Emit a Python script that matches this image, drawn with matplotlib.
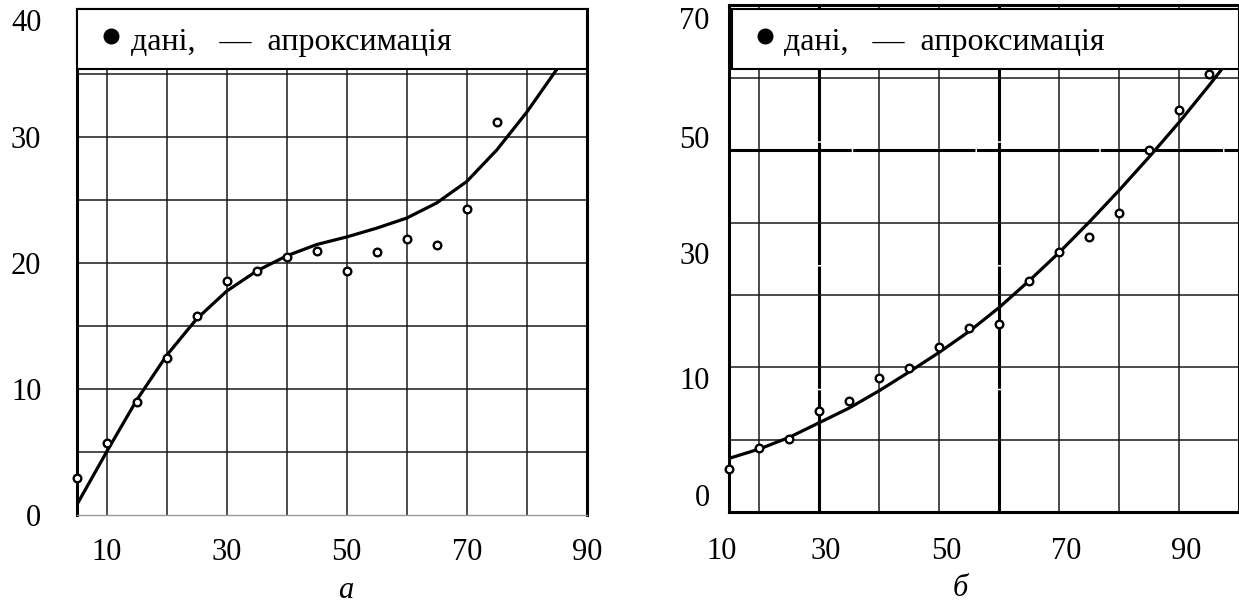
import numpy as np
import matplotlib.pyplot as plt
from matplotlib.patches import Rectangle

plt.rcParams['font.family'] = ['Liberation Serif', 'DejaVu Serif']

# panel (а): measured points and fitted curve
left_x = [5, 10, 15, 20, 25, 30, 35, 40, 45, 50, 55, 60, 65, 70, 75]
left_y = [2.98, 5.71, 8.97, 12.5, 15.8, 18.6, 19.4, 20.5, 21.0, 19.4, 20.9, 21.9, 21.5, 24.3, 31.2]
left_fit_x = [5, 10, 15, 20, 25, 30, 35, 40, 45, 50, 55, 60, 65, 70, 75, 80, 85, 90]
left_fit_y = [0.82, 5.05, 9.15, 12.7, 15.6, 17.8, 19.4, 20.6, 21.5, 22.1, 22.8, 23.6, 24.8, 26.5, 29.0, 32.0, 35.4, 39.2]

# panel (б)
right_x = [15, 20, 25, 30, 35, 40, 45, 50, 55, 60, 65, 70, 75, 80, 85, 90, 95]
right_y = [6.0, 8.85, 10.1, 14.0, 15.4, 18.5, 19.9, 22.9, 25.4, 26.0, 31.9, 35.9, 38.0, 41.4, 50.1, 55.6, 60.5]
right_fit_x = [15, 20, 25, 30, 35, 40, 45, 50, 55, 60, 65, 70, 75, 80, 85, 90, 95, 100]
right_fit_y = [7.46, 8.74, 10.36, 12.38, 14.41, 16.8, 19.4, 22.1, 25.0, 28.3, 32.0, 35.9, 40.1, 44.5, 49.1, 53.9, 59.0, 64.3]

# axis labels
left_xtick_pos = [10, 30, 50, 70, 90]
left_xtick_lab = ['10', '30', '50', '70', '90']
left_ytick_pos = [0, 10, 20, 30, 39.3]
left_ytick_lab = ['0', '10', '20', '30', '40']
right_xtick_pos = [13.7, 31.1, 51.1, 71.1, 91.1]
right_xtick_lab = ['10', '30', '50', '70', '90']
right_ytick_pos = [2.4, 18.6, 35.8, 51.9, 68.3]
right_ytick_lab = ['0', '10', '30', '50', '70']

legend_text = 'дані,   —  апроксимація'

W, H = 1239, 612
fig = plt.figure(figsize=(W / 100, H / 100), dpi=100)
fig.patch.set_facecolor('white')

FS = 22
GRID = '#1a1a1a'
HEAVY = (0, (40, 0.5))


def draw_legend(ax, box, dot_x, text_x, base_y):
    # white strip over the top of the plot with a bullet and the caption
    x0, y0, w, h = box
    ax.add_patch(Rectangle((x0, y0), w, h, transform=ax.transAxes,
                           facecolor='white', edgecolor='black', lw=1.5, zorder=5, clip_on=False))
    ax.plot([dot_x], [base_y + 0.027], 'o', ms=10.5, color='black',
            transform=ax.transAxes, zorder=6, clip_on=False)
    ax.text(text_x, base_y, legend_text, transform=ax.transAxes, fontsize=23,
            ha='left', va='baseline', zorder=6)


axL = fig.add_axes([76.7 / W, (H - 515.3) / H, 510 / W, 506.3 / H])
axR = fig.add_axes([729.3 / W, (H - 512.3) / H, 510 / W, 506.8 / H])

# ---- left panel
axL.set_xlim(5, 90)
axL.set_ylim(0, 40.2)
for gx in range(10, 90, 10):
    axL.axvline(gx, color=GRID, lw=1.1, zorder=1)
for gy in range(5, 40, 5):
    axL.axhline(gy, color=GRID, lw=1.1, zorder=1)
axL.plot(left_fit_x, left_fit_y, color='black', lw=2.3, zorder=3, solid_capstyle='round')
axL.plot(left_x, left_y, 'o', ms=5.5, mfc='white', mec='black', mew=1.7, zorder=4, clip_on=False)

axL.set_xticks(left_xtick_pos, left_xtick_lab)
axL.set_yticks(left_ytick_pos, left_ytick_lab)
axL.tick_params(axis='x', length=0, labelsize=FS, pad=16)
axL.tick_params(axis='y', length=0, labelsize=FS, pad=25.5)
for s in ['left', 'right', 'top']:
    axL.spines[s].set_linewidth(2.2)
axL.spines['bottom'].set_color('#9a9a9a')
axL.spines['bottom'].set_linewidth(1.0)

draw_legend(axL, (0, 0.8815, 1, 1 - 0.8815), 0.068, 0.106, 0.919)

# ---- right panel
axR.set_xlim(15, 100)
axR.set_ylim(0, 70)
for gx in range(20, 100, 10):
    if gx in (30, 60):
        axR.axvline(gx, color='black', lw=2.2, ls=HEAVY, zorder=1)
    else:
        axR.axvline(gx, color=GRID, lw=1.1, zorder=1)
for gy in range(10, 70, 10):
    if gy == 50:
        axR.axhline(gy, color='black', lw=2.2, ls=HEAVY, zorder=1)
    else:
        axR.axhline(gy, color=GRID, lw=1.1, zorder=1)
axR.plot(right_fit_x, right_fit_y, color='black', lw=2.3, zorder=3, solid_capstyle='round')
axR.plot(right_x, right_y, 'o', ms=5.5, mfc='white', mec='black', mew=1.7, zorder=4, clip_on=False)

axR.set_xticks([])
for xp, lab in zip(right_xtick_pos, right_xtick_lab):
    axR.text(xp, -0.0783, lab, transform=axR.get_xaxis_transform(), fontsize=FS,
             ha='center', va='center')
axR.set_yticks(right_ytick_pos, right_ytick_lab)
axR.tick_params(axis='y', length=0, labelsize=FS, pad=14)
for s in ['left', 'right', 'top', 'bottom']:
    axR.spines[s].set_linewidth(2.2)

draw_legend(axR, (0.006, 0.8747, 0.994, 0.993 - 0.8747), 0.070, 0.107, 0.912)

# panel captions
fig.text(346 / W, 1 - 590 / H, 'а', fontsize=FS, style='italic', ha='center', va='center')
fig.text(960 / W, 1 - 588 / H, 'б', fontsize=FS, style='italic', ha='center', va='center')

fig.savefig('out.png', dpi=100)
